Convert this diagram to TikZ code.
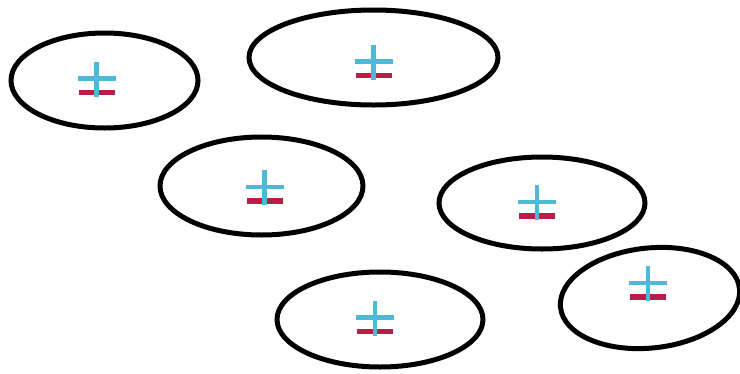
\documentclass[tikz,border=0pt]{standalone}
\usetikzlibrary{shapes.geometric}

\definecolor{poscyan}{RGB}{75,185,215}
\definecolor{negred}{RGB}{185,30,70}

\begin{document}
\begin{tikzpicture}[
  x=1pt, y=-1pt,
  cell/.style={draw=black, ellipse, line width=5pt, inner sep=0pt},
  plusbar/.style={draw=poscyan, line width=4.4pt},
  minusbar/.style={draw=negred, line width=5.4pt},
]
\useasboundingbox (0,0) rectangle (740,373);

% ============ cells ============
\node[cell, minimum width=187pt, minimum height=95pt] (c1) at (104.5,80.5) {};
\node[cell, minimum width=249pt, minimum height=95pt] (c2) at (373.5,57.5) {};
\node[cell, minimum width=203pt, minimum height=98pt] (c3) at (261.5,186) {};
\node[cell, minimum width=206pt, minimum height=92pt] (c4) at (542,203) {};
\node[cell, minimum width=206pt, minimum height=95pt] (c5) at (380,319.5) {};
\node[cell, minimum width=180pt, minimum height=100pt, rotate=6] (c6) at (650,298) {};

% ============ charges (+ over -) ============
\foreach \c/\dx/\dy in {c1/-8/-2, c2/0/4, c3/3/1, c4/-5/-1, c5/-5/-2, c6/-2/-15} {
  \coordinate (\c q) at ([shift={(\dx,\dy)}]\c.center);
  \draw[minusbar] ([shift={(-18,14)}]\c q) -- ([shift={(18,14)}]\c q);
  \draw[plusbar] ([shift={(-19,0)}]\c q) -- ([shift={(19,0)}]\c q);
  \draw[plusbar] ([shift={(0,-17)}]\c q) -- ([shift={(0,18)}]\c q);
}

\end{tikzpicture}
\end{document}
